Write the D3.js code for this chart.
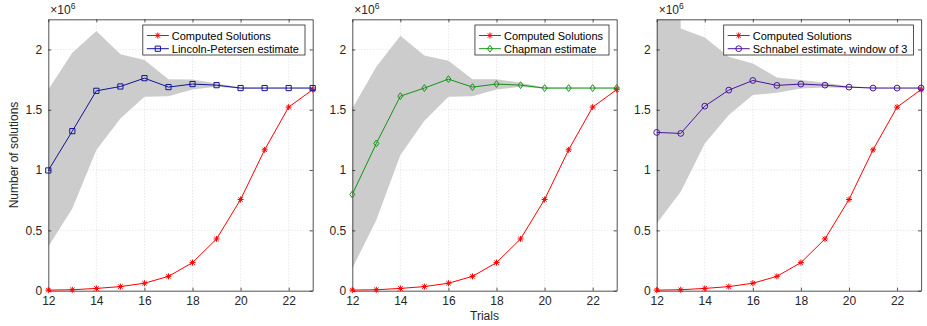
<!DOCTYPE html>
<html>
<head>
<meta charset="utf-8">
<script src="https://cdn.jsdelivr.net/npm/d3@7"></script>
<style>
  body { margin: 0; background: #fff; }
  svg { display: block; font-family: "Liberation Sans", Arial, sans-serif; }
</style>
</head>
<body>
<div id="chart"></div>
<script>
// values in millions of solutions
const trials = [12, 13, 14, 15, 16, 17, 18, 19, 20, 21, 22, 23];
const computed = [0.005, 0.008, 0.019, 0.034, 0.062, 0.119, 0.233, 0.429, 0.756, 1.168, 1.522, 1.667];

const lincoln = [0.997, 1.323, 1.657, 1.693, 1.762, 1.688, 1.713, 1.704, 1.68, 1.68, 1.68, 1.68];
const lincolnUpper = [1.668, 1.972, 2.152, 1.961, 1.912, 1.754, 1.751, 1.718, 1.685, 1.682, 1.682, 1.682];
const lincolnLower = [0.365, 0.682, 1.166, 1.428, 1.608, 1.613, 1.668, 1.69, 1.675, 1.678, 1.678, 1.678];

const chapman = [0.798, 1.221, 1.613, 1.68, 1.754, 1.688, 1.713, 1.704, 1.68, 1.68, 1.68, 1.68];
const chapmanUpper = [1.511, 1.856, 2.113, 1.95, 1.906, 1.754, 1.754, 1.724, 1.685, 1.682, 1.682, 1.682];
const chapmanLower = [0.185, 0.586, 1.124, 1.409, 1.608, 1.613, 1.668, 1.69, 1.675, 1.678, 1.678, 1.678];

const schnabel = [1.312, 1.304, 1.53, 1.663, 1.743, 1.702, 1.713, 1.704, 1.688, 1.68, 1.68, 1.68];
const schnabelUpper = [25, 2.174, 2.099, 1.939, 1.884, 1.768, 1.746, 1.724, 1.696, 1.684, 1.682, 1.682];
const schnabelLower = [0.558, 0.82, 1.221, 1.456, 1.622, 1.641, 1.677, 1.685, 1.68, 1.678, 1.678, 1.678];

const xTicks = [12, 14, 16, 18, 20, 22];
const yTicks = [0, 0.5, 1, 1.5, 2];

const panels = [
  { left: 48.3, name: "Lincoln-Petersen estimate", values: lincoln, upper: lincolnUpper, lower: lincolnLower, color: "#12129a", marker: "square", yLabel: true },
  { left: 352.3, name: "Chapman estimate", values: chapman, upper: chapmanUpper, lower: chapmanLower, color: "#159215", marker: "diamond", xLabel: true },
  { left: 656.7, name: "Schnabel estimate, window of 3", values: schnabel, upper: schnabelUpper, lower: schnabelLower, color: "#4a14a0", marker: "circle" },
];

const width = 927;
const height = 326;
const plotTop = 19.3;
const plotBottom = 290.7;
const plotWidth = 264.4;
const axisColor = "#262626";

const svg = d3.select("#chart").append("svg").attr("width", width).attr("height", height);

panels.forEach((panel, i) => drawPanel(panel, i));

function drawPanel(panel, index) {
  const x = d3.scaleLinear().domain([12, 23]).range([panel.left, panel.left + plotWidth]);
  const y = d3.scaleLinear().domain([0, 2.25]).range([plotBottom, plotTop]);
  const g = svg.append("g");

  const clipId = `clip-${index}`;
  svg.append("clipPath").attr("id", clipId)
    .append("rect")
    .attr("x", x(12)).attr("y", y(2.25))
    .attr("width", plotWidth).attr("height", plotBottom - plotTop);

  // grid
  g.append("g").selectAll("line").data(xTicks.slice(1)).enter().append("line")
    .attr("x1", (d) => x(d)).attr("x2", (d) => x(d))
    .attr("y1", plotTop).attr("y2", plotBottom)
    .attr("stroke", "#d0d0d0").attr("stroke-width", 0.7).attr("stroke-dasharray", "1 2");
  g.append("g").selectAll("line").data(yTicks.slice(1)).enter().append("line")
    .attr("x1", x(12)).attr("x2", x(23))
    .attr("y1", (d) => y(d)).attr("y2", (d) => y(d))
    .attr("stroke", "#d0d0d0").attr("stroke-width", 0.7).attr("stroke-dasharray", "1 2");

  // uncertainty band
  const rows = trials.map((t, i) => ({ t, lo: panel.lower[i], hi: panel.upper[i] }));
  g.append("path").datum(rows)
    .attr("clip-path", `url(#${clipId})`)
    .attr("fill", "#cccccc")
    .attr("d", d3.area().x((d) => x(d.t)).y0((d) => y(d.lo)).y1((d) => y(d.hi)));

  // axes (box with inward ticks on all sides)
  const tickLen = 3;
  g.append("g").attr("transform", `translate(0,${plotBottom})`)
    .call(d3.axisBottom(x).tickValues(xTicks).tickSizeInner(-tickLen).tickSizeOuter(0).tickPadding(6).tickFormat(d3.format("d")))
    .call(styleAxis);
  g.append("g").attr("transform", `translate(0,${plotTop})`)
    .call(d3.axisTop(x).tickValues(xTicks).tickSizeInner(-tickLen).tickSizeOuter(0).tickFormat(""))
    .call(styleAxis);
  g.append("g").attr("transform", `translate(${x(12)},0)`)
    .call(d3.axisLeft(y).tickValues(yTicks).tickSizeInner(-tickLen).tickSizeOuter(0).tickPadding(6).tickFormat((d) => d3.format("~g")(d)))
    .call(styleAxis);
  g.append("g").attr("transform", `translate(${x(23)},0)`)
    .call(d3.axisRight(y).tickValues(yTicks).tickSizeInner(-tickLen).tickSizeOuter(0).tickFormat(""))
    .call(styleAxis);

  // exponent label
  const expText = g.append("text").attr("x", x(12) + 2).attr("y", plotTop - 5)
    .attr("font-size", 12).attr("fill", axisColor);
  expText.append("tspan").text("\u00d710");
  expText.append("tspan").attr("dy", -5).attr("font-size", 8.5).text("6");

  const line = d3.line().x((d) => x(d.t)).y((d) => y(d.v));
  const computedRows = trials.map((t, i) => ({ t, v: computed[i] }));
  const estRows = trials.map((t, i) => ({ t, v: panel.values[i] }));

  g.append("path").datum(computedRows).attr("fill", "none").attr("stroke", "#ff0000").attr("stroke-width", 1).attr("d", line);
  g.append("g").selectAll("path").data(computedRows).enter().append("path")
    .attr("transform", (d) => `translate(${x(d.t)},${y(d.v)})`)
    .attr("d", markerPath("asterisk")).attr("fill", "none").attr("stroke", "#ff0000").attr("stroke-width", 1);

  g.append("path").datum(estRows).attr("fill", "none").attr("stroke", panel.color).attr("stroke-width", 1).attr("d", line);
  g.append("g").selectAll("path").data(estRows).enter().append("path")
    .attr("transform", (d) => `translate(${x(d.t)},${y(d.v)})`)
    .attr("d", markerPath(panel.marker)).attr("fill", "none").attr("stroke", panel.color).attr("stroke-width", 1);

  // legend
  const legend = g.append("g");
  const labels = [
    { text: "Computed Solutions", color: "#ff0000", marker: "asterisk" },
    { text: panel.name, color: panel.color, marker: panel.marker },
  ];
  const box = legend.append("rect").attr("fill", "#fff").attr("stroke", axisColor).attr("stroke-width", 0.8);
  let maxLen = 0;
  const texts = [];
  labels.forEach((item, i) => {
    const t = legend.append("text").attr("y", 39.5 + i * 13.2).attr("font-size", 11).attr("fill", "#000").text(item.text);
    texts.push(t);
    maxLen = Math.max(maxLen, t.node().getComputedTextLength());
  });
  const boxW = maxLen + 35;
  const boxX = x(23) - 7.7 - boxW;
  box.attr("x", boxX).attr("y", 25).attr("width", boxW).attr("height", 30);
  labels.forEach((item, i) => {
    const cy = 35.5 + i * 13.2;
    legend.append("line").attr("x1", boxX + 4).attr("x2", boxX + 26).attr("y1", cy).attr("y2", cy)
      .attr("stroke", item.color).attr("stroke-width", 1);
    legend.append("path").attr("transform", `translate(${boxX + 15},${cy})`)
      .attr("d", markerPath(item.marker)).attr("fill", "none").attr("stroke", item.color).attr("stroke-width", 1);
    texts[i].attr("x", boxX + 29);
  });

  if (panel.yLabel) {
    g.append("text")
      .attr("transform", `translate(18,${(plotTop + plotBottom) / 2}) rotate(-90)`)
      .attr("text-anchor", "middle").attr("font-size", 12).attr("fill", axisColor)
      .text("Number of solutions");
  }
  if (panel.xLabel) {
    g.append("text")
      .attr("x", (x(12) + x(23)) / 2).attr("y", 320)
      .attr("text-anchor", "middle").attr("font-size", 12).attr("fill", axisColor)
      .text("Trials");
  }
}

function styleAxis(sel) {
  sel.select(".domain").attr("stroke", axisColor).attr("stroke-width", 0.8);
  sel.selectAll(".tick line").attr("stroke", axisColor).attr("stroke-width", 0.8);
  sel.selectAll(".tick text").attr("fill", axisColor).attr("font-size", 12)
    .attr("font-family", "'Liberation Sans', Arial, sans-serif");
}

function markerPath(kind) {
  const r = 2.6;
  if (kind === "square") {
    return `M${-r},${-r}H${r}V${r}H${-r}Z`;
  }
  if (kind === "diamond") {
    const d = 3.4;
    return `M0,${-d}L${d * 0.75},0L0,${d}L${-d * 0.75},0Z`;
  }
  if (kind === "circle") {
    const c = 2.9;
    return `M${-c},0A${c},${c} 0 1,0 ${c},0A${c},${c} 0 1,0 ${-c},0Z`;
  }
  const a = 3;
  const b = 2.2;
  return `M${-a},0H${a}M0,${-a}V${a}M${-b},${-b}L${b},${b}M${-b},${b}L${b},${-b}`;
}
</script>
</body>
</html>
